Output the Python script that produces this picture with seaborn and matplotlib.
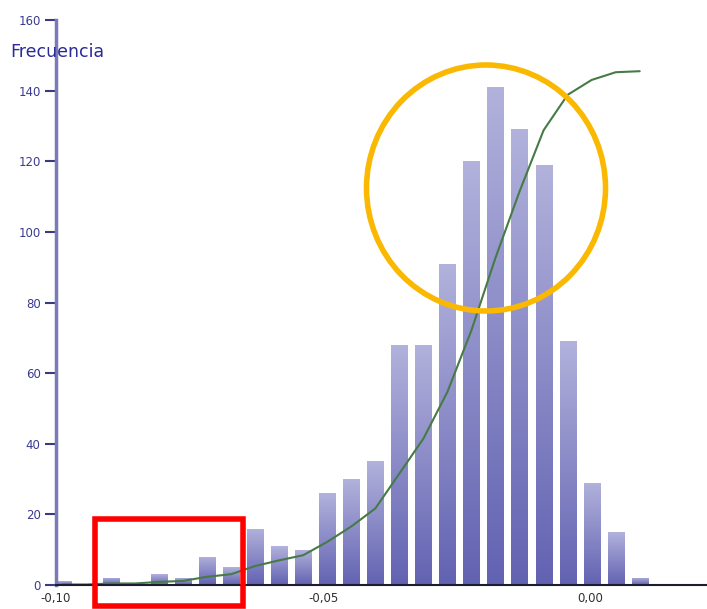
import numpy as np
import pandas as pd
import matplotlib
matplotlib.use("Agg")
import matplotlib.pyplot as plt
from matplotlib.colors import LinearSegmentedColormap
from matplotlib.patches import Rectangle, Ellipse
import seaborn as sns

# Histogram bins (centres) and frequencies
bin_centers = [-0.0987, -0.0942, -0.0897, -0.0852, -0.0807, -0.0762, -0.0717,
               -0.0672, -0.0627, -0.0582, -0.0537, -0.0492, -0.0447, -0.0402,
               -0.0357, -0.0312, -0.0267, -0.0222, -0.0177, -0.0132, -0.0087,
               -0.0042, 0.0003, 0.0048, 0.0093]
frequencies = [1, 0, 2, 0, 3, 2, 8, 5, 16, 11, 10, 26, 30, 35, 68, 68, 91,
               120, 141, 129, 119, 69, 29, 15, 2]
bin_width = 0.0045
cum_scale = 145.5  # cumulative curve is drawn on the frequency axis, topping out here

x_ticks = [-0.10, -0.05, 0.00]
x_ticklabels = ["-0,10", "-0,05", "0,00"]
y_ticks = [0, 20, 40, 60, 80, 100, 120, 140, 160]

df = pd.DataFrame({"x": bin_centers, "freq": frequencies})
df["cum"] = np.cumsum(df["freq"]) / df["freq"].sum() * cum_scale
edges = [c - bin_width / 2 for c in bin_centers] + [bin_centers[-1] + bin_width / 2]

sns.set_theme(style="white")
plt.rcParams["font.family"] = ["DejaVu Sans"]

fig = plt.figure(figsize=(7.07, 6.09), dpi=100)
ax = fig.add_axes([56 / 707, 1 - 585 / 609, 1 - 56 / 707, (585 - 20) / 609])

sns.histplot(data=df, x="x", weights="freq", bins=edges, shrink=0.67,
             color="#8a8ac8", edgecolor="none", alpha=1, ax=ax, zorder=2)

# vertical lavender gradient inside each bar
cmap = LinearSegmentedColormap.from_list("lav", ["#6262b2", "#b2b2dc"])
grad = np.linspace(0, 1, 256).reshape(-1, 1)
for p in ax.patches:
    h = p.get_height()
    if h <= 0:
        continue
    x0, w = p.get_x(), p.get_width()
    im = ax.imshow(grad, cmap=cmap, origin="lower", aspect="auto",
                   extent=[x0, x0 + w, 0, h], zorder=2.5)
    im.set_clip_path(p)

sns.lineplot(data=df, x="x", y="cum", color="#467a46", linewidth=1.5,
             ax=ax, zorder=3)

ax.set_xlim(-0.10, 0.0219)
ax.set_ylim(0, 160)
ax.set_xticks(x_ticks)
ax.set_xticklabels(x_ticklabels)
ax.set_yticks(y_ticks)
ax.set_xlabel("")
ax.set_ylabel("")

for s in ["top", "right"]:
    ax.spines[s].set_visible(False)
ax.spines["left"].set_color("#7a7ab8")
ax.spines["left"].set_linewidth(2.5)
ax.spines["left"].set_zorder(4)
ax.spines["bottom"].set_color("#1c1c30")
ax.spines["bottom"].set_linewidth(1.5)
ax.spines["bottom"].set_zorder(4)

ax.tick_params(axis="y", direction="out", length=8, width=1.5, color="#3a3a80",
               labelsize=8.5, labelcolor="#3a3a90", pad=3, left=True)
ax.tick_params(axis="x", length=0, labelsize=8.5, labelcolor="#303030", pad=5)

fig.text(10 / 707, 1 - 52 / 609, "Frecuencia", fontsize=12.5, color="#2a2a98",
         ha="left", va="center", zorder=5)

# highlight marks
fig.add_artist(Rectangle((95 / 707, 1 - 606 / 609), 148 / 707, 87 / 609,
                         transform=fig.transFigure, fill=False,
                         edgecolor="#ff0000", linewidth=4, zorder=10))
fig.add_artist(Ellipse((486 / 707, 1 - 188 / 609), 239 / 707, 246 / 609,
                       transform=fig.transFigure, fill=False,
                       edgecolor="#fbb800", linewidth=4, zorder=10))

fig.savefig("out.png", dpi=100)
